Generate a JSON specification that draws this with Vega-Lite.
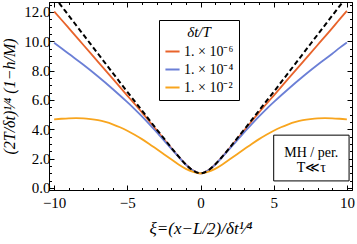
{
  "$schema": "https://vega.github.io/schema/vega-lite/v6.json",
  "autosize": "none",
  "width": 303,
  "height": 188,
  "padding": {"left": 49, "top": 2, "right": 5, "bottom": 54},
  "background": "white",
  "config": {
    "view": {"stroke": "black", "strokeWidth": 1},
    "axis": {"domainColor": "black", "tickColor": "black", "labelColor": "black", "titleColor": "black", "grid": false, "labelFont": "Liberation Serif", "titleFont": "Liberation Serif", "titleFontWeight": "normal"}
  },
  "data": {"values": [
    {"s": "limit", "x": -10, "y": 13.05}, {"s": "limit", "x": -9.5, "y": 12.4}, {"s": "limit", "x": -9, "y": 11.75}, {"s": "limit", "x": -8, "y": 10.45}, {"s": "limit", "x": -7, "y": 9.15}, {"s": "limit", "x": -6, "y": 7.85}, {"s": "limit", "x": -5, "y": 6.55}, {"s": "limit", "x": -4.5, "y": 5.92}, {"s": "limit", "x": -4, "y": 5.28}, {"s": "limit", "x": -3.5, "y": 4.64}, {"s": "limit", "x": -3, "y": 4.0}, {"s": "limit", "x": -2.5, "y": 3.38}, {"s": "limit", "x": -2, "y": 2.75}, {"s": "limit", "x": -1.5, "y": 2.15}, {"s": "limit", "x": -1, "y": 1.6}, {"s": "limit", "x": -0.5, "y": 1.18}, {"s": "limit", "x": 0, "y": 1.0},
    {"s": "limit", "x": 0.5, "y": 1.18}, {"s": "limit", "x": 1, "y": 1.6}, {"s": "limit", "x": 1.5, "y": 2.15}, {"s": "limit", "x": 2, "y": 2.75}, {"s": "limit", "x": 2.5, "y": 3.38}, {"s": "limit", "x": 3, "y": 4.0}, {"s": "limit", "x": 3.5, "y": 4.64}, {"s": "limit", "x": 4, "y": 5.28}, {"s": "limit", "x": 4.5, "y": 5.92}, {"s": "limit", "x": 5, "y": 6.55}, {"s": "limit", "x": 6, "y": 7.85}, {"s": "limit", "x": 7, "y": 9.15}, {"s": "limit", "x": 8, "y": 10.45}, {"s": "limit", "x": 9, "y": 11.75}, {"s": "limit", "x": 9.5, "y": 12.4}, {"s": "limit", "x": 10, "y": 13.05},

    {"s": "1. × 10⁻⁶", "x": -10, "y": 12.03}, {"s": "1. × 10⁻⁶", "x": -9.5, "y": 11.47}, {"s": "1. × 10⁻⁶", "x": -9, "y": 10.9}, {"s": "1. × 10⁻⁶", "x": -8, "y": 9.75}, {"s": "1. × 10⁻⁶", "x": -7, "y": 8.6}, {"s": "1. × 10⁻⁶", "x": -6, "y": 7.45}, {"s": "1. × 10⁻⁶", "x": -5, "y": 6.3}, {"s": "1. × 10⁻⁶", "x": -4.5, "y": 5.73}, {"s": "1. × 10⁻⁶", "x": -4, "y": 5.15}, {"s": "1. × 10⁻⁶", "x": -3.5, "y": 4.55}, {"s": "1. × 10⁻⁶", "x": -3, "y": 3.94}, {"s": "1. × 10⁻⁶", "x": -2.5, "y": 3.34}, {"s": "1. × 10⁻⁶", "x": -2, "y": 2.73}, {"s": "1. × 10⁻⁶", "x": -1.5, "y": 2.14}, {"s": "1. × 10⁻⁶", "x": -1, "y": 1.6}, {"s": "1. × 10⁻⁶", "x": -0.5, "y": 1.18}, {"s": "1. × 10⁻⁶", "x": 0, "y": 1.0},
    {"s": "1. × 10⁻⁶", "x": 0.5, "y": 1.18}, {"s": "1. × 10⁻⁶", "x": 1, "y": 1.6}, {"s": "1. × 10⁻⁶", "x": 1.5, "y": 2.14}, {"s": "1. × 10⁻⁶", "x": 2, "y": 2.73}, {"s": "1. × 10⁻⁶", "x": 2.5, "y": 3.34}, {"s": "1. × 10⁻⁶", "x": 3, "y": 3.94}, {"s": "1. × 10⁻⁶", "x": 3.5, "y": 4.55}, {"s": "1. × 10⁻⁶", "x": 4, "y": 5.15}, {"s": "1. × 10⁻⁶", "x": 4.5, "y": 5.73}, {"s": "1. × 10⁻⁶", "x": 5, "y": 6.3}, {"s": "1. × 10⁻⁶", "x": 6, "y": 7.45}, {"s": "1. × 10⁻⁶", "x": 7, "y": 8.6}, {"s": "1. × 10⁻⁶", "x": 8, "y": 9.75}, {"s": "1. × 10⁻⁶", "x": 9, "y": 10.9}, {"s": "1. × 10⁻⁶", "x": 9.5, "y": 11.5}, {"s": "1. × 10⁻⁶", "x": 10, "y": 12.08},

    {"s": "1. × 10⁻⁴", "x": -10, "y": 9.9}, {"s": "1. × 10⁻⁴", "x": -9.5, "y": 9.53}, {"s": "1. × 10⁻⁴", "x": -9, "y": 9.15}, {"s": "1. × 10⁻⁴", "x": -8, "y": 8.4}, {"s": "1. × 10⁻⁴", "x": -7, "y": 7.6}, {"s": "1. × 10⁻⁴", "x": -6, "y": 6.75}, {"s": "1. × 10⁻⁴", "x": -5, "y": 5.85}, {"s": "1. × 10⁻⁴", "x": -4.5, "y": 5.38}, {"s": "1. × 10⁻⁴", "x": -4, "y": 4.88}, {"s": "1. × 10⁻⁴", "x": -3.5, "y": 4.35}, {"s": "1. × 10⁻⁴", "x": -3, "y": 3.8}, {"s": "1. × 10⁻⁴", "x": -2.5, "y": 3.25}, {"s": "1. × 10⁻⁴", "x": -2, "y": 2.68}, {"s": "1. × 10⁻⁴", "x": -1.5, "y": 2.12}, {"s": "1. × 10⁻⁴", "x": -1, "y": 1.59}, {"s": "1. × 10⁻⁴", "x": -0.5, "y": 1.18}, {"s": "1. × 10⁻⁴", "x": 0, "y": 1.0},
    {"s": "1. × 10⁻⁴", "x": 0.5, "y": 1.18}, {"s": "1. × 10⁻⁴", "x": 1, "y": 1.59}, {"s": "1. × 10⁻⁴", "x": 1.5, "y": 2.12}, {"s": "1. × 10⁻⁴", "x": 2, "y": 2.68}, {"s": "1. × 10⁻⁴", "x": 2.5, "y": 3.25}, {"s": "1. × 10⁻⁴", "x": 3, "y": 3.8}, {"s": "1. × 10⁻⁴", "x": 3.5, "y": 4.35}, {"s": "1. × 10⁻⁴", "x": 4, "y": 4.88}, {"s": "1. × 10⁻⁴", "x": 4.5, "y": 5.38}, {"s": "1. × 10⁻⁴", "x": 5, "y": 5.85}, {"s": "1. × 10⁻⁴", "x": 6, "y": 6.75}, {"s": "1. × 10⁻⁴", "x": 7, "y": 7.6}, {"s": "1. × 10⁻⁴", "x": 8, "y": 8.4}, {"s": "1. × 10⁻⁴", "x": 9, "y": 9.15}, {"s": "1. × 10⁻⁴", "x": 9.5, "y": 9.55}, {"s": "1. × 10⁻⁴", "x": 10, "y": 9.92},

    {"s": "1. × 10⁻²", "x": -10, "y": 4.68}, {"s": "1. × 10⁻²", "x": -9.5, "y": 4.72}, {"s": "1. × 10⁻²", "x": -9, "y": 4.75}, {"s": "1. × 10⁻²", "x": -8.5, "y": 4.76}, {"s": "1. × 10⁻²", "x": -8, "y": 4.75}, {"s": "1. × 10⁻²", "x": -7.5, "y": 4.7}, {"s": "1. × 10⁻²", "x": -7, "y": 4.62}, {"s": "1. × 10⁻²", "x": -6.5, "y": 4.5}, {"s": "1. × 10⁻²", "x": -6, "y": 4.34}, {"s": "1. × 10⁻²", "x": -5.5, "y": 4.14}, {"s": "1. × 10⁻²", "x": -5, "y": 3.9}, {"s": "1. × 10⁻²", "x": -4.5, "y": 3.63}, {"s": "1. × 10⁻²", "x": -4, "y": 3.33}, {"s": "1. × 10⁻²", "x": -3.5, "y": 3.0}, {"s": "1. × 10⁻²", "x": -3, "y": 2.65}, {"s": "1. × 10⁻²", "x": -2.5, "y": 2.3}, {"s": "1. × 10⁻²", "x": -2, "y": 1.95}, {"s": "1. × 10⁻²", "x": -1.5, "y": 1.6}, {"s": "1. × 10⁻²", "x": -1, "y": 1.3}, {"s": "1. × 10⁻²", "x": -0.5, "y": 1.1}, {"s": "1. × 10⁻²", "x": 0, "y": 1.0},
    {"s": "1. × 10⁻²", "x": 0.5, "y": 1.1}, {"s": "1. × 10⁻²", "x": 1, "y": 1.3}, {"s": "1. × 10⁻²", "x": 1.5, "y": 1.6}, {"s": "1. × 10⁻²", "x": 2, "y": 1.95}, {"s": "1. × 10⁻²", "x": 2.5, "y": 2.3}, {"s": "1. × 10⁻²", "x": 3, "y": 2.65}, {"s": "1. × 10⁻²", "x": 3.5, "y": 3.0}, {"s": "1. × 10⁻²", "x": 4, "y": 3.33}, {"s": "1. × 10⁻²", "x": 4.5, "y": 3.63}, {"s": "1. × 10⁻²", "x": 5, "y": 3.9}, {"s": "1. × 10⁻²", "x": 5.5, "y": 4.14}, {"s": "1. × 10⁻²", "x": 6, "y": 4.34}, {"s": "1. × 10⁻²", "x": 6.5, "y": 4.5}, {"s": "1. × 10⁻²", "x": 7, "y": 4.62}, {"s": "1. × 10⁻²", "x": 7.5, "y": 4.7}, {"s": "1. × 10⁻²", "x": 8, "y": 4.75}, {"s": "1. × 10⁻²", "x": 8.5, "y": 4.76}, {"s": "1. × 10⁻²", "x": 9, "y": 4.75}, {"s": "1. × 10⁻²", "x": 9.5, "y": 4.72}, {"s": "1. × 10⁻²", "x": 10, "y": 4.68}
  ]},
  "resolve": {"axis": {"x": "independent", "y": "independent"}},
  "layer": [
    {
      "transform": [{"filter": "datum.s !== 'limit'"}],
      "mark": {"type": "line", "strokeWidth": 1.8, "clip": true, "interpolate": "monotone"},
      "encoding": {
        "x": {"field": "x", "type": "quantitative",
          "scale": {"domain": [-10.35, 10.35], "nice": false, "zero": false},
          "axis": {"orient": "bottom", "title": "ξ=(x−L/2)/δt¹⁄⁴", "titleFontSize": 17, "titleFontStyle": "italic", "titlePadding": 10,
            "values": [-10, -9, -8, -7, -6, -5, -4, -3, -2, -1, 0, 1, 2, 3, 4, 5, 6, 7, 8, 9, 10],
            "labelExpr": "datum.value % 5 === 0 ? datum.label : ''",
            "tickSize": {"condition": {"test": "datum.value % 5 === 0", "value": -5}, "value": -2.5},
            "labelFontSize": 15, "labelPadding": 10, "domainWidth": 1}},
        "y": {"field": "y", "type": "quantitative",
          "scale": {"domain": [-0.14, 12.68], "nice": false, "zero": false},
          "axis": {"orient": "left", "title": "(2T/δt)¹⁄⁴ (1−h/M)", "titleFontSize": 16, "titleFontStyle": "italic", "titlePadding": 6,
            "values": [0, 0.5, 1, 1.5, 2, 2.5, 3, 3.5, 4, 4.5, 5, 5.5, 6, 6.5, 7, 7.5, 8, 8.5, 9, 9.5, 10, 10.5, 11, 11.5, 12, 12.5],
            "labelExpr": "datum.value % 2 === 0 ? datum.label : ''",
            "tickSize": {"condition": {"test": "datum.value % 2 === 0", "value": -5}, "value": -2.5},
            "labelFontSize": 15, "labelPadding": 4, "domainWidth": 1}},
        "color": {"field": "s", "type": "nominal",
          "scale": {"domain": ["1. × 10⁻⁶", "1. × 10⁻⁴", "1. × 10⁻²"], "range": ["#E8632B", "#6B7FD6", "#F8A51E"]},
          "legend": {"orient": "none", "legendX": 110, "legendY": 18, "title": "δt/T", "strokeColor": "black", "fillColor": "white", "padding": 5, "cornerRadius": 0,
            "titleFont": "Liberation Serif", "titleFontStyle": "italic", "titleFontSize": 15, "titleFontWeight": "normal", "titleAnchor": "middle", "titleColor": "black", "titlePadding": 3,
            "labelFont": "Liberation Serif", "labelFontSize": 14, "labelColor": "black", "labelOffset": 3,
            "symbolType": "stroke", "symbolStrokeWidth": 2, "symbolSize": 200, "rowPadding": 2}}
      }
    },
    {
      "transform": [{"filter": "datum.s === 'limit'"}],
      "mark": {"type": "line", "strokeWidth": 2, "color": "black", "strokeDash": [5, 3], "clip": true, "interpolate": "monotone"},
      "encoding": {
        "x": {"field": "x", "type": "quantitative",
          "axis": {"orient": "top", "title": null, "labels": false,
            "values": [-10, -9, -8, -7, -6, -5, -4, -3, -2, -1, 0, 1, 2, 3, 4, 5, 6, 7, 8, 9, 10],
            "tickSize": {"condition": {"test": "datum.value % 5 === 0", "value": -5}, "value": -2.5}}},
        "y": {"field": "y", "type": "quantitative",
          "axis": {"orient": "right", "title": null, "labels": false,
            "values": [0, 0.5, 1, 1.5, 2, 2.5, 3, 3.5, 4, 4.5, 5, 5.5, 6, 6.5, 7, 7.5, 8, 8.5, 9, 9.5, 10, 10.5, 11, 11.5, 12, 12.5],
            "tickSize": {"condition": {"test": "datum.value % 2 === 0", "value": -5}, "value": -2.5}}}
      }
    },
    {
      "data": {"values": [{"k": 1}]},
      "mark": {"type": "rect", "fill": "white", "stroke": "black", "strokeWidth": 1},
      "encoding": {
        "x": {"datum": 5.0, "type": "quantitative", "axis": null},
        "x2": {"datum": 10.15},
        "y": {"datum": 0.48, "type": "quantitative", "axis": null},
        "y2": {"datum": 3.6}
      }
    },
    {
      "data": {"values": [{"t": "MH / per.", "py": 2.4, "st": "normal"}, {"t": "T≪τ", "py": 1.38, "st": "italic"}]},
      "mark": {"type": "text", "font": "Liberation Serif", "fontSize": 14, "color": "black", "align": "center", "baseline": "middle"},
      "encoding": {
        "x": {"datum": 7.57, "type": "quantitative", "axis": null},
        "y": {"field": "py", "type": "quantitative", "axis": null},
        "text": {"field": "t"},
        "fontStyle": {"field": "st", "type": "nominal", "scale": null}
      }
    }
  ]
}
